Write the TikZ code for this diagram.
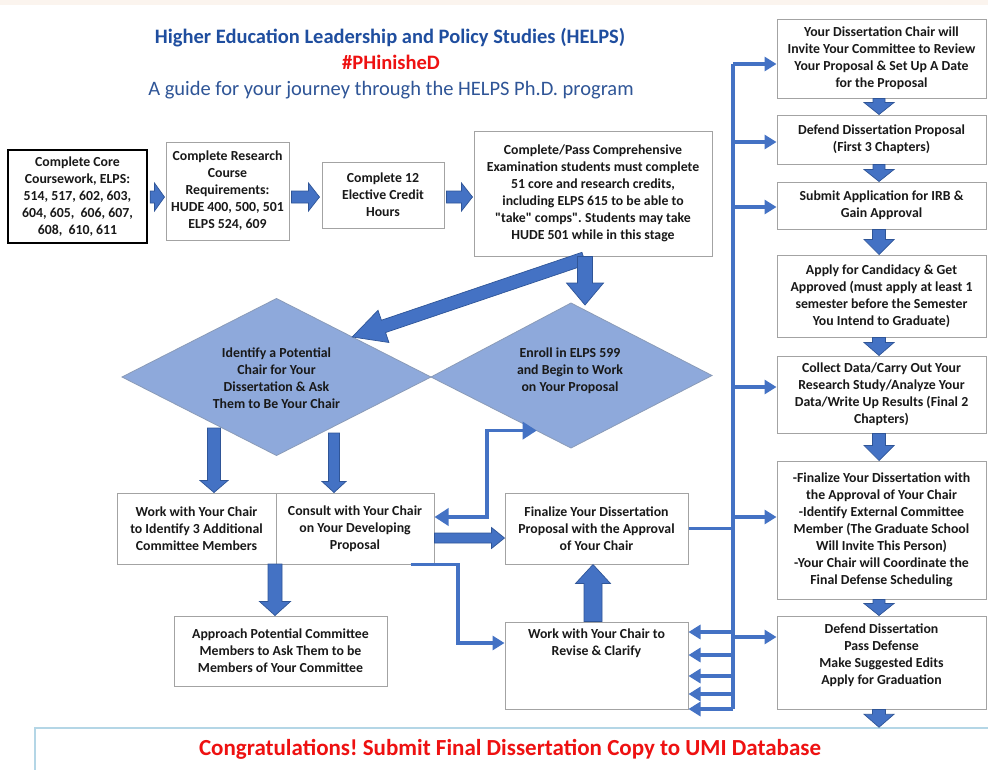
\documentclass[tikz,border=0pt]{standalone}
\usepackage{fontspec}
\setmainfont{Carlito}[Ligatures=TeXOff]
\frenchspacing
\usetikzlibrary{arrows.meta,calc}
\definecolor{ablue}{HTML}{4472C4}
\definecolor{adark}{HTML}{2F5597}
\definecolor{bgray}{HTML}{A3A3A3}
\definecolor{dfill}{HTML}{8EA9DB}
\definecolor{dline}{HTML}{8A9BB8}
\definecolor{tblue}{HTML}{1F4E9F}
\definecolor{sblue}{HTML}{2F5597}
\definecolor{peach}{HTML}{FBF4EE}
\definecolor{banblue}{HTML}{B4D6E6}
\definecolor{redt}{HTML}{EE1111}
\newcommand\bxfont{\bfseries\fontsize{13.8}{17}\selectfont}
\tikzset{
  box/.style={draw=bgray, line width=1pt, fill=white, inner sep=0pt, align=center, font=\bxfont, text=black!90},
  txt/.style={inner sep=0pt, align=center, font=\bxfont, text=black!90},
  dia/.style={fill=dfill, draw=dline, line width=0.8pt, line join=miter},
  blockarrow/.style={fill=ablue, draw=adark, line width=0.7pt, line join=miter},
  conn/.style={draw=ablue, line width=3.5pt},
  tipa/.style={-{Triangle[length=12pt,width=14pt]}},
  tipb/.style={{Triangle[length=14pt,width=17pt]}-{Triangle[length=14pt,width=17pt]}},
}
% block arrow: from, to, shaft half width, head half width, head length
\newcommand\barrow[5]{%
  \path let \p1=(#1), \p2=(#2) in \pgfextra{%
    \pgfmathsetmacro\tmpang{atan2(\y2-\y1,\x2-\x1)}%
    \pgfmathsetmacro\tmplen{veclen(\x2-\x1,\y2-\y1)}%
    \xdef\baAng{\tmpang}\xdef\baLen{\tmplen}%
    \xdef\baX{\x1}\xdef\baY{\y1}};
  \filldraw[blockarrow, shift={(\baX,\baY)}, rotate=\baAng]
    (0pt,#3pt) -- ({\baLen pt-#5pt},#3pt) -- ({\baLen pt-#5pt},#4pt) -- (\baLen pt,0pt)
    -- ({\baLen pt-#5pt},-#4pt) -- ({\baLen pt-#5pt},-#3pt) -- (0pt,-#3pt) -- cycle;}
\begin{document}
\begin{tikzpicture}[x=1pt,y=-1pt]
\useasboundingbox (0,0) rectangle (988,769);
\clip (0,0) rectangle (988,769);
\fill[white] (0,0) rectangle (988,769);
\fill[peach] (0,0) rectangle (988,5);

% titles
\node[font=\bfseries\fontsize{20.5}{22}\selectfont, text=tblue, inner sep=0pt] (t1) at (390,38) {Higher Education Leadership and Policy Studies (HELPS)};
\node[font=\bfseries\fontsize{20.5}{22}\selectfont, text=redt, inner sep=0pt] (t2) at (391,62) {\#PHinisheD};
\node[font=\fontsize{20.5}{22}\selectfont, text=sblue, inner sep=0pt] (t3) at (391,90) {A guide for your journey through the HELPS Ph.D. program};

% top row
\node[box, draw=black, line width=2.4pt, minimum width=139pt, minimum height=93pt] (b1) at (77.5,196.5) {Complete Core\\Coursework, ELPS:\\514, 517, 602, 603,\\604, 605,\ \ 606, 607,\\608,\ \ 610, 611};
\node[box, minimum width=123pt, minimum height=98pt] (b2) at (227.5,191) {Complete Research\\Course\\Requirements:\\HUDE 400, 500, 501\\ELPS 524, 609};
\node[box, minimum width=122pt, minimum height=66pt] (b3) at (383,195) {Complete 12\\Elective Credit\\Hours};
\node[box, minimum width=238pt, minimum height=125pt] (b4) at (593,193.5) {Complete/Pass Comprehensive\\Examination students must complete\\51 core and research credits,\\including ELPS 615 to be able to\\"take" comps". Students may take\\HUDE 501 while in this stage};
\coordinate (r1) at (0,197);
\barrow{$(b1.east |- r1)+(2,0)$}{$(b2.west |- r1)+(-1,0)$}{6}{14}{10}
\barrow{$(b2.east |- r1)+(2,0)$}{$(b3.west |- r1)+(-2,0)$}{6}{14}{11}
\barrow{$(b3.east |- r1)+(2,0)$}{$(b4.west |- r1)+(-1,0)$}{6}{14}{11}

% diamonds
\coordinate (d1T) at (276.5,298.5);
\coordinate (d1R) at (431,377);
\coordinate (d1B) at (276.5,455.5);
\coordinate (d1L) at (122,377);
\draw[dia] (d1T) -- (d1R) -- (d1B) -- (d1L) -- cycle;
\node[txt] (d1) at (276.5,378) {Identify a Potential\\Chair for Your\\Dissertation \& Ask\\Them to Be Your Chair};
\coordinate (d2T) at (571,303);
\coordinate (d2R) at (712,375.5);
\coordinate (d2B) at (571,448);
\coordinate (d2L) at (431,377);
\draw[dia] (d2T) -- (d2R) -- (d2B) -- (d2L) -- cycle;
\node[txt] (d2) at (570,371) {Enroll in ELPS 599\\and Begin to Work\\on Your Proposal};

% arrows from comprehensive box
\coordinate (d1e) at ($(d1T)!0.49!(d1R)$);
\coordinate (d2tip) at (585,305);
\barrow{$(b4.south)+(-9,2)$}{d1e}{6.5}{17}{33}
\barrow{b4.south -| d2tip}{d2tip}{7.5}{18.5}{22}

% middle row
\node[box, minimum width=159pt, minimum height=71pt] (bW) at (196.5,528.5) {Work with Your Chair\\to Identify 3 Additional\\Committee Members};
\node[box, minimum width=158pt, minimum height=71pt] (bC) at (355,528.5) {Consult with Your Chair\\on Your Developing\\Proposal};
\node[box, minimum width=183pt, minimum height=71pt] (bF) at (596.5,528.5) {Finalize Your Dissertation\\Proposal with the Approval\\of Your Chair};
\node[box, minimum width=213pt, minimum height=70pt] (bA) at (280.5,651) {Approach Potential Committee\\Members to Ask Them to be\\Members of Your Committee};
\node[box, minimum width=183pt, minimum height=87pt] (bR) at (596.5,665.5) {};
\node[txt, anchor=north] (bRt) at (596.5,629) {Work with Your Chair to\\Revise \& Clarify};

\coordinate (d1a) at (214,428);
\coordinate (d1b) at (334,433);
\barrow{d1a}{d1a |- bW.north}{6.5}{14}{12}
\barrow{d1b}{d1b |- bC.north}{5.5}{12}{11}
\coordinate (wa) at (275,564);
\barrow{wa}{wa |- bA.north}{7}{15.5}{14}
\coordinate (cf) at (0,538);
\barrow{bC.east |- cf}{bF.west |- cf}{5}{10.5}{13}
\barrow{$(bR.north)+(-3.5,0)$}{$(bF.south)+(-3.5,0)$}{9}{17.5}{19}

% thin connectors in the middle
\coordinate (d2e) at ($(d2L)!0.755!(d2B)$);
\coordinate (p1) at (487,517);
\draw[conn, tipb] (p1 -| bC.east) -- (p1) |- (d2e);
\coordinate (q1) at ($(bC.south east)+(-24,0)$);
\coordinate (q2) at (458,643);
\draw[conn, tipa] (q1) -| (q2) -- (q2 -| bR.west);

% right column
\node[box, minimum width=209pt, minimum height=79pt] (R1) at (881.5,58.5) {Your Dissertation Chair will\\Invite Your Committee to Review\\Your Proposal \& Set Up A Date\\for the Proposal};
\node[box, minimum width=209pt, minimum height=49pt] (R2) at (881.5,139.5) {Defend Dissertation Proposal\\(First 3 Chapters)};
\node[box, minimum width=209pt, minimum height=47pt] (R3) at (881.5,205.5) {Submit Application for IRB \&\\Gain Approval};
\node[box, minimum width=209pt, minimum height=82pt] (R4) at (881.5,296) {Apply for Candidacy \& Get\\Approved (must apply at least 1\\semester before the Semester\\You Intend to Graduate)};
\node[box, minimum width=209pt, minimum height=77pt] (R5) at (881.5,394.5) {Collect Data/Carry Out Your\\Research Study/Analyze Your\\Data/Write Up Results (Final 2\\Chapters)};
\node[box, minimum width=209pt, minimum height=138pt] (R6) at (881.5,530) {-Finalize Your Dissertation with\\the Approval of Your Chair\\-Identify External Committee\\Member (The Graduate School\\Will Invite This Person)\\-Your Chair will Coordinate the\\Final Defense Scheduling};
\node[box, minimum width=209pt, minimum height=93pt] (R7) at (881.5,662.5) {};
\node[txt] (R7t) at (881.5,655.5) {Defend Dissertation\\Pass Defense\\Make Suggested Edits\\Apply for Graduation};

% banner
\node[draw=banblue, line width=1.5pt, fill=white, minimum width=965pt, minimum height=62pt, inner sep=0pt] (ban) at (517.5,759) {};
\node[font=\bfseries\fontsize{23}{25}\selectfont, text=redt, inner sep=0pt] (bant) at (510,749) {Congratulations! Submit Final Dissertation Copy to UMI Database};

% right column arrows
\coordinate (rx) at (879,0);
\barrow{R1.south -| rx}{R2.north -| rx}{6}{15}{12}
\barrow{R2.south -| rx}{R3.north -| rx}{6}{15}{12}
\barrow{R3.south -| rx}{R4.north -| rx}{6.5}{15}{15}
\barrow{R4.south -| rx}{R5.north -| rx}{6.5}{15}{13}
\barrow{R5.south -| rx}{R6.north -| rx}{6.5}{15}{15}
\barrow{R6.south -| rx}{R7.north -| rx}{6}{15}{12}
\barrow{R7.south -| rx}{ban.north -| rx}{6.5}{15}{13}

% trunk
\coordinate (tk1) at (733,64);
\coordinate (tk2) at (733,142);
\coordinate (tk3) at (733,207);
\coordinate (tk5) at (733,387);
\coordinate (tk6) at (733,517);
\coordinate (tk7) at (733,637);
\coordinate (tl1) at (733,632);
\coordinate (tl2) at (733,655);
\coordinate (tl3) at (733,676);
\coordinate (tl4) at (733,694);
\coordinate (tl5) at (733,709);
\draw[conn] (tk1) -- (tl5);
\draw[conn] (bF.east) -- (bF.east -| tk1);
\foreach \k/\r in {tk1/R1,tk2/R2,tk3/R3,tk5/R5,tk6/R6,tk7/R7}
  \draw[conn, tipa] (\k) -- (\k -| \r.west);
\foreach \k in {tl1,tl2,tl3,tl4,tl5}
  \draw[conn, tipa] (\k) -- (\k -| bR.east);
\end{tikzpicture}
\end{document}
